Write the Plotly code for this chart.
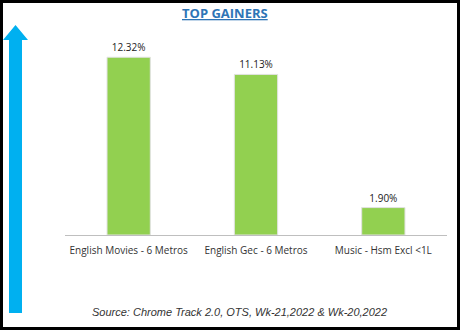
import plotly.graph_objects as go

categories = ["English Movies - 6 Metros", "English Gec - 6 Metros", "Music - Hsm Excl <1L"]
values = [12.32, 11.13, 1.90]
labels = ["12.32%", "11.13%", "1.90%"]

W, H = 460, 330
L, R, T, B = 65, 13, 33, 95
pw, ph = W - L - R, H - T - B


def px(x):
    return (x - L) / pw


def py(y):
    return (H - B - y) / ph


fig = go.Figure(go.Bar(
    x=categories, y=values, text=labels, textposition="outside",
    marker=dict(color="#92D050", line=dict(color="#E2E2E2", width=1)),
    width=0.34, cliponaxis=False,
    textfont=dict(family="Open Sans", size=10, color="#222222"),
))

arrow = [(15.5, 25), (28, 40), (22, 40), (22, 313), (9, 313), (9, 40), (3, 40)]
path = "M " + " L ".join(f"{px(x):.5f},{py(y):.5f}" for x, y in arrow) + " Z"

fig.update_layout(
    width=W, height=H,
    margin=dict(l=L, r=R, t=T, b=B),
    paper_bgcolor="white", plot_bgcolor="white",
    showlegend=False,
    bargap=0.66,
    xaxis=dict(showline=True, linecolor="#BFBFBF", linewidth=1,
               ticks="outside", ticklen=6, tickcolor="rgba(0,0,0,0)",
               tickfont=dict(family="Open Sans", size=10, color="#333333"),
               showgrid=False),
    yaxis=dict(range=[0, 14], visible=False, showgrid=False, zeroline=False),
    shapes=[
        dict(type="path", xref="paper", yref="paper", path=path,
             fillcolor="#00B0F0", line=dict(width=0)),
        dict(type="rect", xref="paper", yref="paper",
             x0=px(1.5), x1=px(W - 1.5), y0=py(1.5), y1=py(H - 1.5),
             line=dict(color="black", width=3)),
    ],
    annotations=[
        dict(text="<b><u>TOP GAINERS</u></b>", xref="paper", yref="paper",
             x=px(225), y=py(13), showarrow=False, yanchor="middle",
             font=dict(family="Open Sans", size=13, color="#2E75B6")),
        dict(text="<i>Source: Chrome Track 2.0, OTS, Wk-21,2022 &amp; Wk-20,2022</i>",
             xref="paper", yref="paper", x=px(239), y=py(312), showarrow=False,
             yanchor="middle",
             font=dict(family="Liberation Sans", size=11, color="#333333")),
    ],
)

fig.write_html("out.html")
